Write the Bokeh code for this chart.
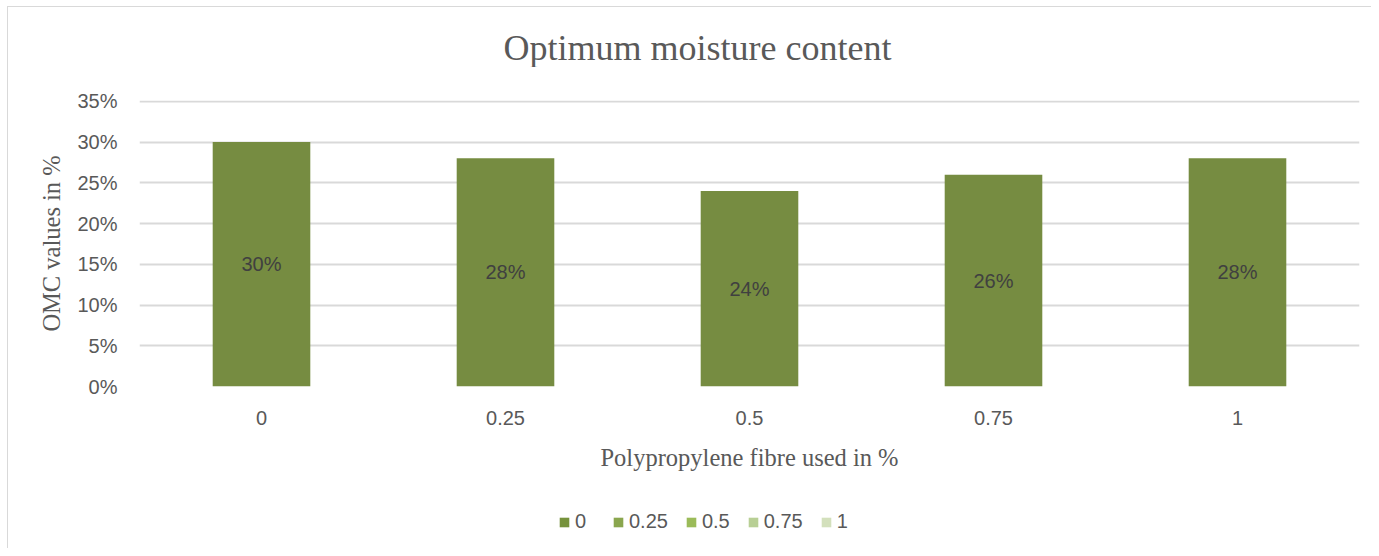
from bokeh.plotting import figure
from bokeh.layouts import column
from bokeh.models import (ColumnDataSource, FactorRange, Range1d, NumeralTickFormatter,
                          Legend, LegendItem, FixedTicker, Label)
from bokeh.core.properties import value
from bokeh.embed import file_html
from bokeh.resources import INLINE

# ---- data ----
categories = ["0", "0.25", "0.5", "0.75", "1"]
omc_values = [0.30, 0.28, 0.24, 0.26, 0.28]
value_labels = ["30%", "28%", "24%", "26%", "28%"]
y_ticks = [0.0, 0.05, 0.10, 0.15, 0.20, 0.25, 0.30, 0.35]
legend_labels = ["0", "0.25", "0.5", "0.75", "1"]
legend_colors = ["#76923c", "#8aa64e", "#9bbb59", "#b8cf95", "#d3e0bc"]

title_text = "Optimum moisture content"
x_title = "Polypropylene fibre used in %"
y_title = "OMC values in %"

BAR_COLOR = "#768c41"
GRID = "#d9d9d9"
TXT = "#595959"

W = 1363
H_TITLE, H_MAIN, H_LEG = 60, 424, 57


def strip(height):
    f = figure(width=W, height=height, output_backend="svg", toolbar_location=None,
               x_range=Range1d(0, 1), y_range=Range1d(0, 1),
               min_border_left=0, min_border_right=0, min_border_top=0, min_border_bottom=0)
    f.axis.visible = False
    f.grid.visible = False
    f.outline_line_color = None
    f.border_fill_color = "white"
    return f


# title strip
t = strip(H_TITLE)
t.add_layout(Label(x=558, y=20, x_units="screen", y_units="screen", text=title_text,
                   text_align="center", text_baseline="alphabetic",
                   text_font="Liberation Serif", text_font_size="36px", text_color=TXT))

# main chart
p = figure(width=W, height=H_MAIN, output_backend="svg", toolbar_location=None,
           x_range=FactorRange(*categories, range_padding=0.0),
           y_range=Range1d(0, 0.351),
           min_border_left=131, min_border_right=12,
           min_border_top=33, min_border_bottom=105)
p.outline_line_color = None
p.background_fill_color = "white"
p.border_fill_color = "white"

src = ColumnDataSource(dict(cat=categories, val=omc_values,
                            mid=[v / 2 for v in omc_values], lab=value_labels))

p.vbar(x="cat", top="val", width=0.4, source=src, fill_color=BAR_COLOR, line_color=None)
p.text(x="cat", y="mid", text="lab", source=src, text_align="center",
       text_baseline="middle", text_font=value("Liberation Sans"),
       text_font_size="20px", text_color="#404040")

p.yaxis.ticker = FixedTicker(ticks=y_ticks)
p.yaxis.formatter = NumeralTickFormatter(format="0%")
for ax in (p.xaxis[0], p.yaxis[0]):
    ax.axis_line_color = None
    ax.major_tick_line_color = None
    ax.minor_tick_line_color = None
    ax.major_label_text_font = "Liberation Sans"
    ax.major_label_text_font_size = "20px"
    ax.major_label_text_color = TXT
    ax.axis_label_text_font = "Liberation Serif"
    ax.axis_label_text_font_size = "24.5px"
    ax.axis_label_text_font_style = "normal"
    ax.axis_label_text_color = TXT
p.yaxis.major_label_standoff = 16
p.yaxis.axis_label = y_title
p.yaxis.axis_label_standoff = 9
p.xaxis.major_label_standoff = 18
p.xaxis.axis_label = x_title
p.xaxis.axis_label_standoff = 16

p.xgrid.grid_line_color = None
p.ygrid.grid_line_color = GRID
p.ygrid.grid_line_width = 2

# legend strip
q = strip(H_LEG)
items = []
for lab, col in zip(legend_labels, legend_colors):
    # placeholder renderer (nothing drawn in the plot) that only supplies the legend swatch
    r = q.vbar(x=[float("nan")], top=[float("nan")], width=0.4, fill_color=col, line_color=None)
    items.append(LegendItem(label=lab, renderers=[r]))
leg = Legend(items=items, orientation="horizontal", location=(419, 15),
             glyph_width=12, glyph_height=12, label_standoff=5, spacing=17,
             padding=0, margin=0, border_line_color=None, background_fill_alpha=0,
             label_text_font="Liberation Sans", label_text_font_size="20px",
             label_text_color=TXT)
q.add_layout(leg, "center")

page = column(t, p, q, spacing=0,
              styles={"border-left": "1px solid #d9d9d9", "border-top": "1px solid #d9d9d9",
                      "margin-left": "7px", "margin-top": "6px"})

open("out.html", "w").write(file_html(page, INLINE))
